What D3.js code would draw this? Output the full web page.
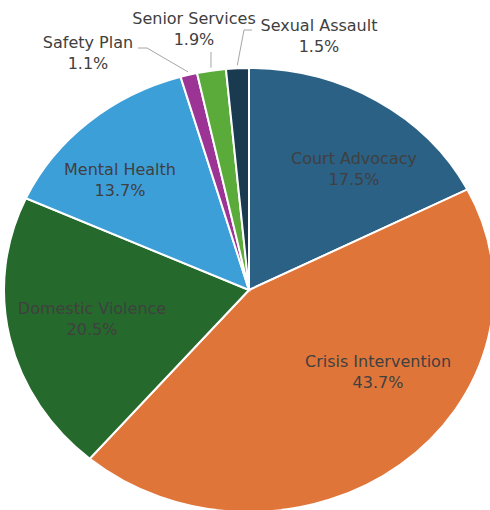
<!DOCTYPE html>
<html>
<head>
<meta charset="utf-8">
<script src="https://cdn.jsdelivr.net/npm/d3@7"></script>
<style>
  html, body { margin: 0; padding: 0; background: #fff; }
  text { font-family: "DejaVu Sans", sans-serif; font-size: 16px; fill: #404040; }
</style>
</head>
<body>
<div class="chart"></div>
<script>
var categories = ["Court Advocacy", "Crisis Intervention", "Domestic Violence", "Mental Health",
                  "Safety Plan", "Senior Services", "Sexual Assault"];
var shares = [17.5, 43.7, 20.5, 13.7, 1.1, 1.9, 1.5];
var colors = ["#2a6185", "#e0753a", "#256a2c", "#3d9fd8", "#9b3494", "#5aab3a", "#1a3a50"];

// label anchors (x,y of first line), outside labels get a leader line
var labelPos = [[354, 158], [378, 361], [92, 308], [120, 169], [88, 42], [194, 18], [319, 25]];
var leaders = [null, null, null, null,
               [[138, 48], [147, 48]],
               [[211, 52]],
               [[252, 30], [244, 30]]];

var w = 490, h = 510;
var cx = 249, cy = 290, rx = 245, ry = 222;

var svg = d3.select(".chart").append("svg").attr("width", w).attr("height", h);

var pie = d3.pie().sort(null).value(function(d){ return d; });
var arcs = pie(shares);
var arc = d3.arc().innerRadius(0).outerRadius(rx);

var g = svg.append("g").attr("transform", "translate(" + cx + "," + cy + ") scale(1," + (ry / rx) + ")");

g.selectAll("path")
  .data(arcs)
  .enter()
  .append("path")
  .attr("d", arc)
  .attr("fill", function(d, i){ return colors[i]; })
  .attr("stroke", "#fff")
  .attr("stroke-width", 2)
  .attr("vector-effect", "non-scaling-stroke");

// leader lines from the slice edge to the label
arcs.forEach(function(d, i){
  if (!leaders[i]) return;
  var a = (d.startAngle + d.endAngle) / 2;
  var edge = [cx + Math.sin(a) * (rx + 3), cy - Math.cos(a) * (ry + 3)];
  var pts = leaders[i].concat([edge]);
  svg.append("path")
    .attr("d", d3.line()(pts))
    .attr("fill", "none")
    .attr("stroke", "#a6a6a6")
    .attr("stroke-width", 1);
});

var labels = svg.selectAll("text.lbl")
  .data(arcs)
  .enter()
  .append("text")
  .attr("class", "lbl")
  .attr("text-anchor", "middle")
  .attr("x", function(d, i){ return labelPos[i][0]; })
  .attr("y", function(d, i){ return labelPos[i][1]; });

labels.append("tspan")
  .attr("x", function(d, i){ return labelPos[i][0]; })
  .attr("dy", "0.35em")
  .text(function(d, i){ return categories[i]; });

labels.append("tspan")
  .attr("x", function(d, i){ return labelPos[i][0]; })
  .attr("dy", 21)
  .text(function(d){ return d.data.toFixed(1) + "%"; });
</script>
</body>
</html>
